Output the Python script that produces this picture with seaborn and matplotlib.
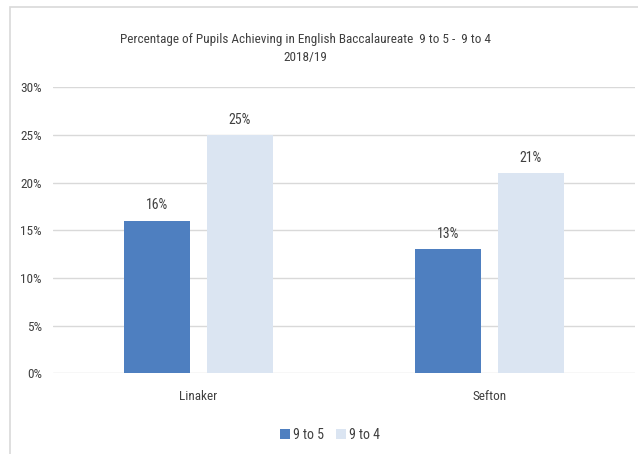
import pandas as pd
import matplotlib.pyplot as plt
import seaborn as sns
from matplotlib.patches import Rectangle

# Dados
schools = ["Linaker", "Sefton"]
series = ["9 to 5", "9 to 4"]
values_9to5 = [0.16, 0.13]
values_9to4 = [0.25, 0.21]
y_ticks = [0, 0.05, 0.10, 0.15, 0.20, 0.25, 0.30]

df = pd.DataFrame({
    "School": schools * 2,
    "Grade": [series[0]] * 2 + [series[1]] * 2,
    "Value": values_9to5 + values_9to4,
})

sns.set_theme(style="white")
plt.rcParams["font.family"] = ["Roboto Condensed", "Liberation Sans Narrow", "Lato", "DejaVu Sans"]

text_color = "#404040"
palette = {series[0]: "#4e7fc0", series[1]: "#dbe5f2"}

fig = plt.figure(figsize=(6.38, 4.54), dpi=100)
ax = fig.add_axes([0.083, 0.178, 0.912, 0.630])

sns.barplot(data=df, x="School", y="Value", hue="Grade", palette=palette,
            width=0.57, gap=0.2, saturation=1, linewidth=0, ax=ax, legend=True)

ax.set_xlim(-0.5, 1.5)
ax.set_ylim(0, 0.30)
ax.set_yticks(y_ticks)
ax.set_yticklabels([f"{int(round(t * 100))}%" for t in y_ticks])
ax.yaxis.grid(True, color="#d9d9d9", linewidth=1)
ax.set_axisbelow(True)
for s in ax.spines.values():
    s.set_visible(False)
ax.tick_params(axis="both", length=0, labelsize=9.5, colors=text_color)
ax.tick_params(axis="x", pad=12)
ax.tick_params(axis="y", pad=8)
ax.set_xlabel("")
ax.set_ylabel("")

# Rótulos de dados
for container in ax.containers:
    ax.bar_label(container, labels=[f"{int(round(v.get_height() * 100))}%" for v in container],
                 padding=6, fontsize=10, color=text_color)

leg = ax.legend(loc="center", bbox_to_anchor=(330 / 638, 1 - 435 / 454),
                bbox_transform=fig.transFigure, ncol=2, frameon=False,
                fontsize=10, handlelength=0.7, handleheight=0.8,
                handletextpad=0.2, columnspacing=0.9)
for t in leg.get_texts():
    t.set_color(text_color)

fig.text(305 / 638, 1 - 49 / 454,
         "Percentage of Pupils Achieving in English Baccalaureate  9 to 5 -  9 to 4\n2018/19",
         ha="center", va="center", fontsize=9.5, color=text_color, linespacing=1.5)

# Moldura do gráfico
fig.patches.append(Rectangle((10 / 638, -0.1), 1.1, 1.1 - 7 / 454, transform=fig.transFigure,
                             fill=False, edgecolor="#d9d9d9", linewidth=1.2))

plt.savefig("out.png", dpi=100)
